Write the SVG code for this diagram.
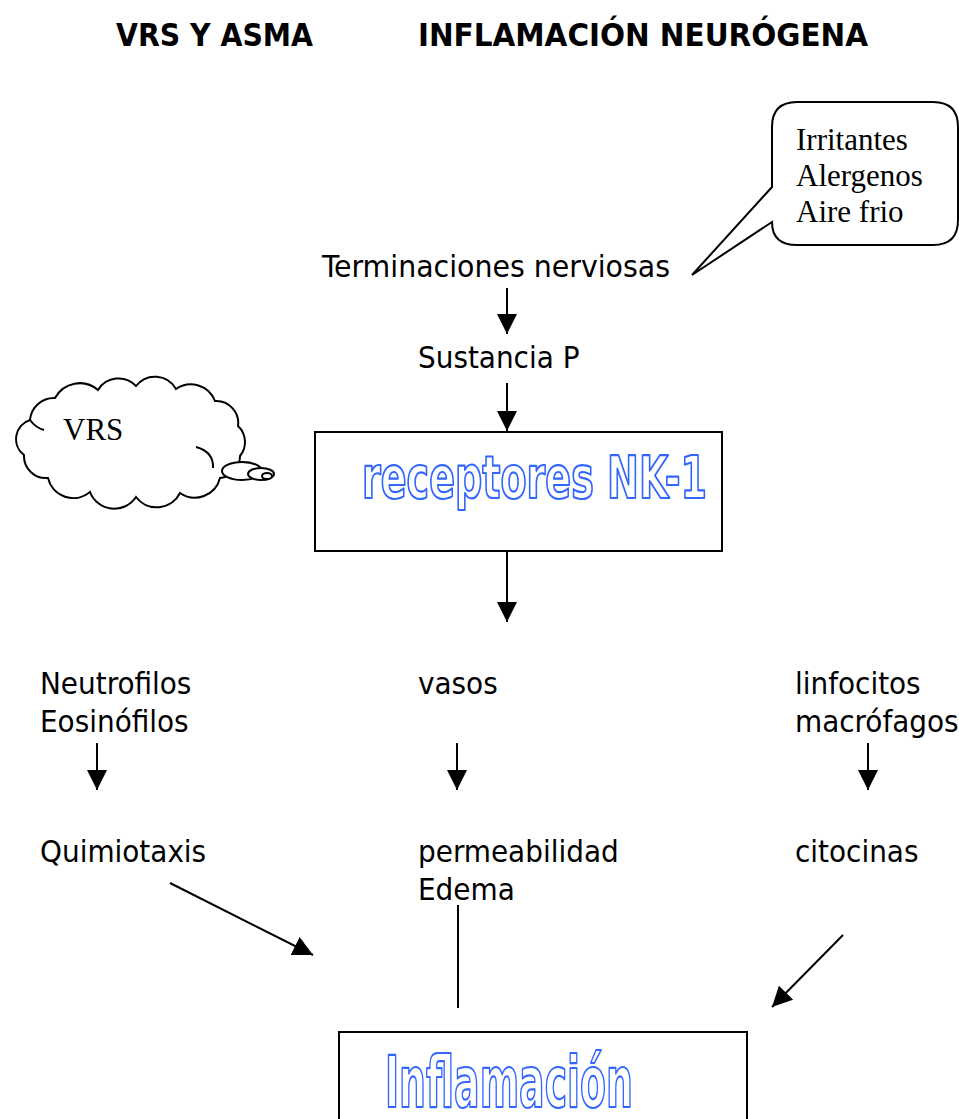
<svg xmlns="http://www.w3.org/2000/svg" width="959" height="1119" viewBox="0 0 959 1119">
<style>
.title{font-family:"DejaVu Sans Condensed","DejaVu Sans",sans-serif;font-weight:bold;font-size:32px;fill:#000}
.body{font-family:"DejaVu Sans Condensed","DejaVu Sans",sans-serif;font-size:31px;fill:#000}
.serif{font-family:"Liberation Serif","Times New Roman",serif;font-size:31px;fill:#000}
.outline{font-family:"DejaVu Sans Condensed","DejaVu Sans",sans-serif;font-weight:bold;fill:#fff;stroke:#3366ff;stroke-width:2.2;stroke-linejoin:round}
.shape{fill:#fff;stroke:#000;stroke-width:2}
.conn line{stroke:#000;stroke-width:2}
</style>
<defs>
<marker id="ah" viewBox="0 0 20 20" refX="20" refY="10" markerWidth="20" markerHeight="20" markerUnits="userSpaceOnUse" orient="auto">
<path d="M0,0 L20,10 L0,20 Z" fill="#000"/>
</marker>
</defs>
<rect width="959" height="1119" fill="#fff"/>

<g id="titles">
<text class="title" x="116" y="46" textLength="197" lengthAdjust="spacingAndGlyphs">VRS Y ASMA</text>
<text class="title" x="418" y="46" textLength="450" lengthAdjust="spacingAndGlyphs">INFLAMACIÓN NEURÓGENA</text>
</g>

<g id="callout">
<path class="shape" d="M797,102 H933 Q958,102 958,127 V220 Q958,245 933,245 H797 Q772,245 772,222 L692,275 L772,187 V127 Q772,102 797,102 Z"/>
<text class="serif" x="796" y="150">Irritantes</text>
<text class="serif" x="796" y="186">Alergenos</text>
<text class="serif" x="796" y="222">Aire frio</text>
</g>

<g id="terminaciones">
<text class="body" x="322" y="277" textLength="348" lengthAdjust="spacingAndGlyphs">Terminaciones nerviosas</text>
</g>

<g id="sustancia">
<text class="body" x="418" y="368">Sustancia P</text>
</g>

<g id="vrs">
<path class="shape" d="M30,420 A24,24 0 0 1 55,398 A28,28 0 0 1 98,390 A24,24 0 0 1 136,386 A24,24 0 0 1 176,389 A26,26 0 0 1 215,401 A22,22 0 0 1 238,426 A22,22 0 0 1 240,456 A22,22 0 0 1 220,478 A26,26 0 0 1 180,493 A26,26 0 0 1 136,497 A26,26 0 0 1 90,492 A26,26 0 0 1 48,478 A22,22 0 0 1 24,455 A20,20 0 0 1 30,420 Z"/>
<path d="M196,447 Q214,452 213,468" fill="none" stroke="#000" stroke-width="2"/>
<path d="M30,420 Q36,428 44,430" fill="none" stroke="#000" stroke-width="2"/>
<ellipse class="shape" cx="242" cy="471" rx="20" ry="9"/>
<ellipse class="shape" cx="261" cy="474" rx="13" ry="6"/>
<ellipse class="shape" cx="267" cy="476" rx="5" ry="3"/>
<text class="serif" x="63" y="440">VRS</text>
</g>

<g id="receptores">
<rect class="shape" x="315" y="432" width="407" height="119"/>
<text class="outline" x="362" y="498" font-size="59" textLength="345" lengthAdjust="spacingAndGlyphs">receptores NK-1</text>
</g>

<g id="neutrofilos">
<text class="body" x="40" y="694">Neutrofilos</text>
<text class="body" x="40" y="732">Eosinófilos</text>
</g>
<g id="vasos">
<text class="body" x="418" y="694">vasos</text>
</g>
<g id="linfocitos">
<text class="body" x="795" y="694">linfocitos</text>
<text class="body" x="795" y="732">macrófagos</text>
</g>

<g id="quimiotaxis">
<text class="body" x="40" y="862">Quimiotaxis</text>
</g>
<g id="permeabilidad">
<text class="body" x="418" y="862">permeabilidad</text>
<text class="body" x="418" y="900">Edema</text>
</g>
<g id="citocinas">
<text class="body" x="795" y="862">citocinas</text>
</g>

<g id="inflamacion">
<rect class="shape" x="339" y="1032" width="408" height="100"/>
<text class="outline" x="385" y="1107" font-size="72" textLength="248" lengthAdjust="spacingAndGlyphs">Inflamación</text>
</g>

<g id="connectors" class="conn">
<line x1="507" y1="288" x2="507" y2="334" marker-end="url(#ah)"/>
<line x1="507" y1="383" x2="507" y2="431" marker-end="url(#ah)"/>
<line x1="507" y1="552" x2="507" y2="622" marker-end="url(#ah)"/>
<line x1="97" y1="743" x2="97" y2="790" marker-end="url(#ah)"/>
<line x1="457" y1="743" x2="457" y2="790" marker-end="url(#ah)"/>
<line x1="868" y1="743" x2="868" y2="790" marker-end="url(#ah)"/>
<line x1="170" y1="883" x2="313" y2="955" marker-end="url(#ah)"/>
<line x1="458" y1="905" x2="458" y2="1008"/>
<line x1="843" y1="935" x2="772" y2="1007" marker-end="url(#ah)"/>
</g>
</svg>
